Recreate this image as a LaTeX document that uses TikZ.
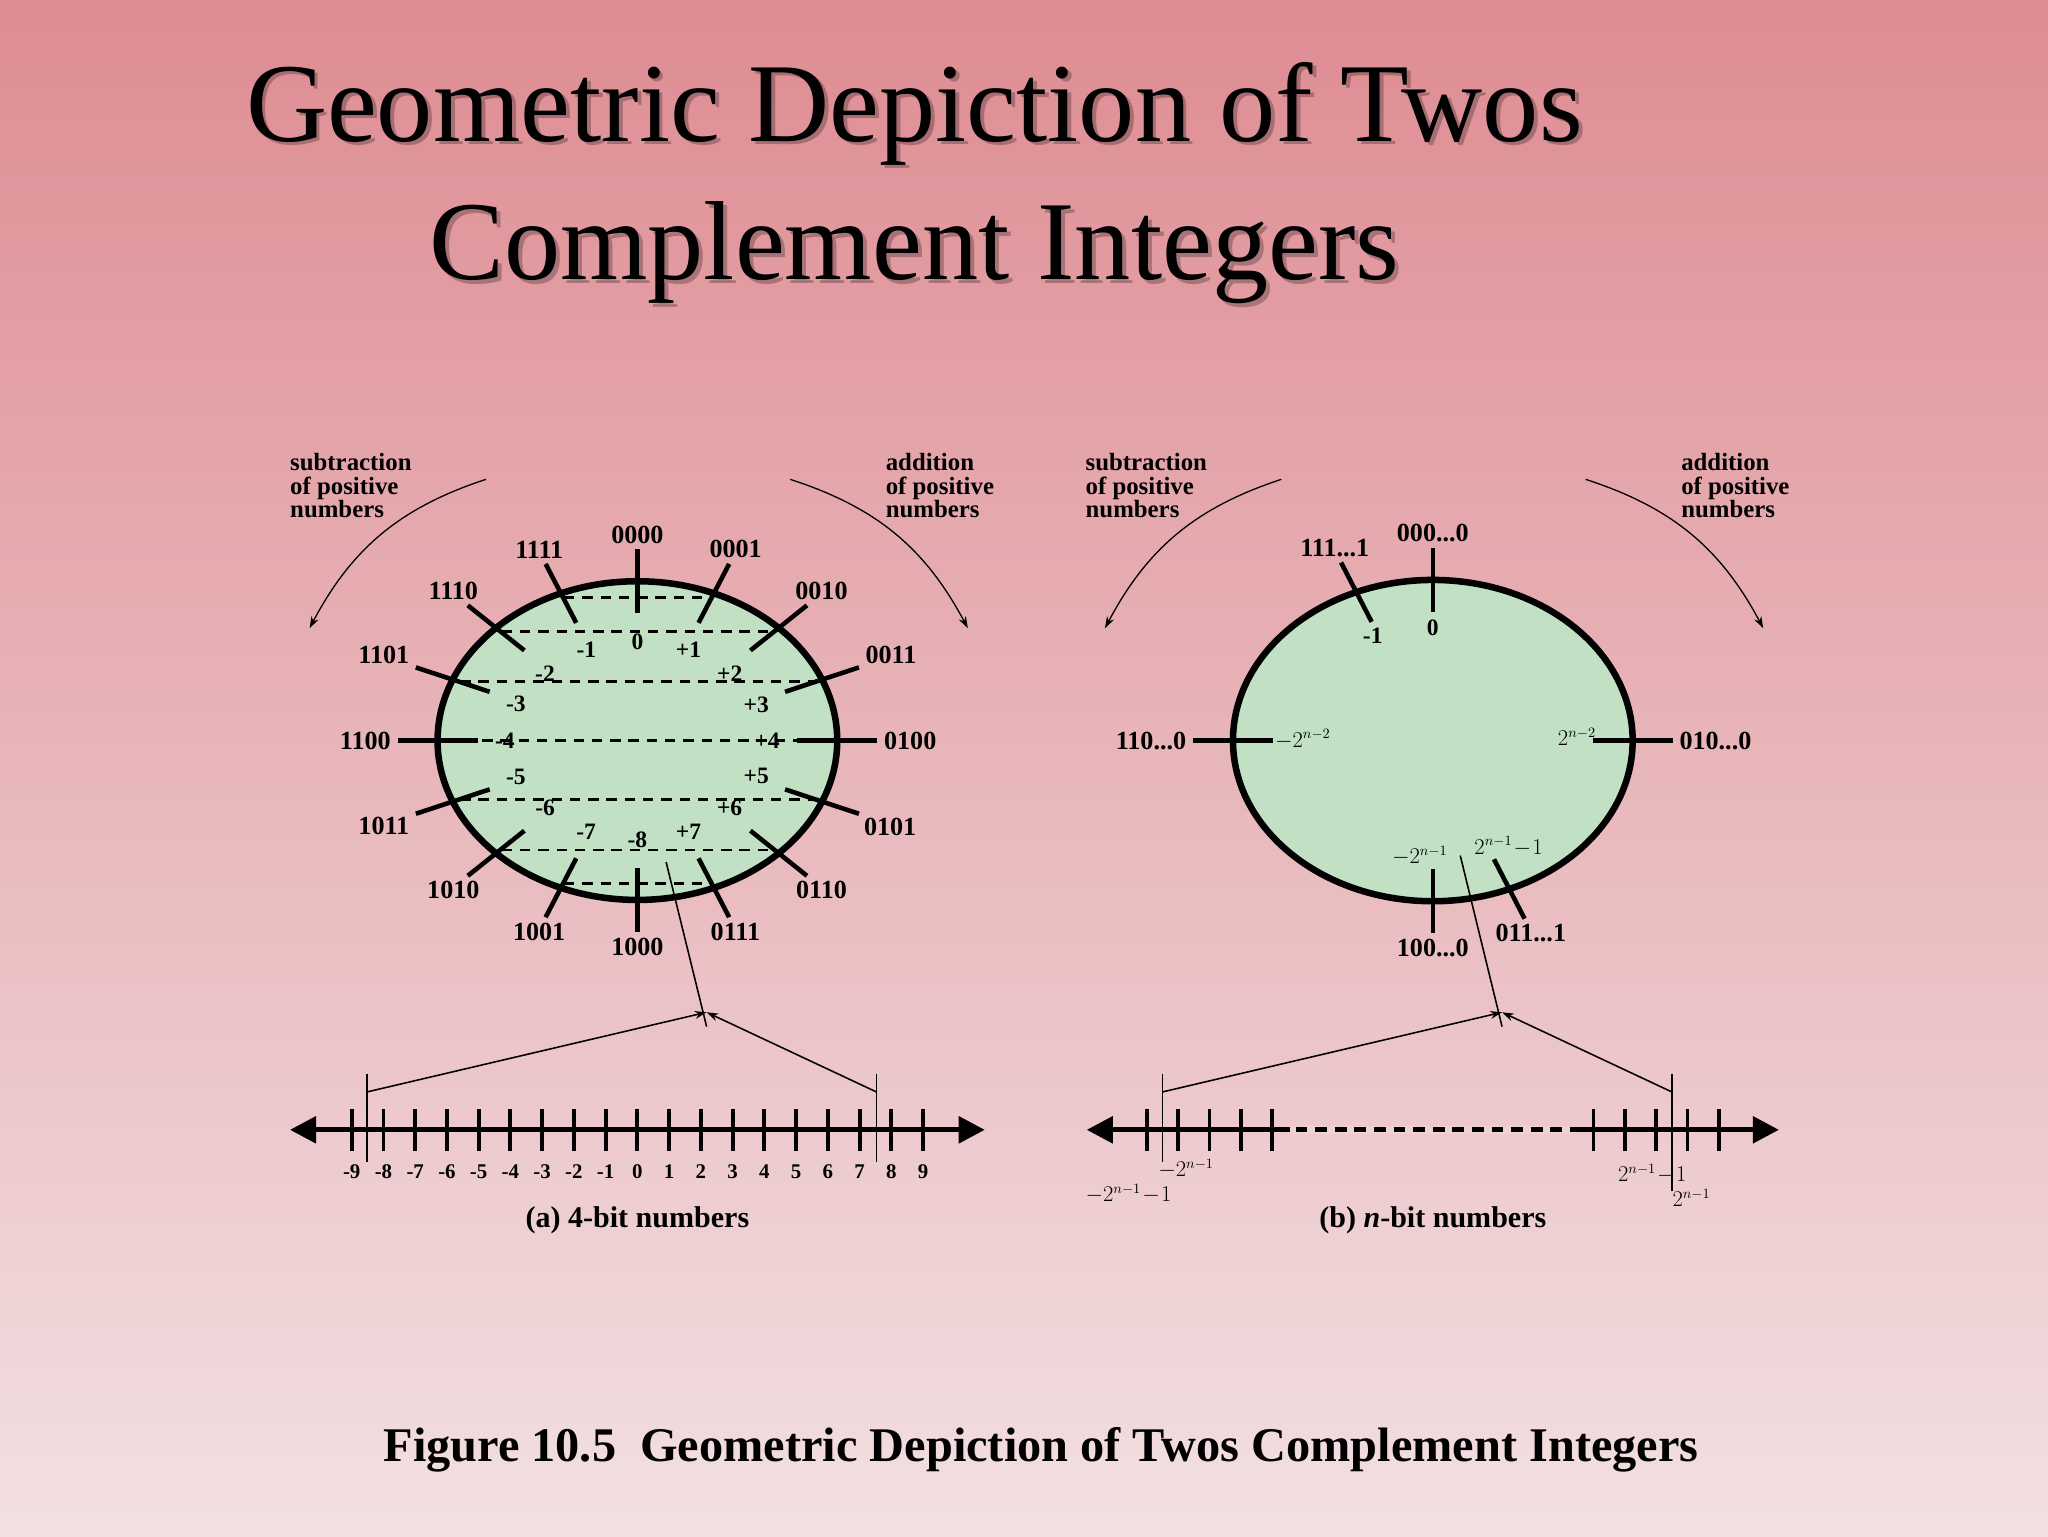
\documentclass[tikz,border=0pt]{standalone}
\usepackage{fontspec}
\setmainfont{Liberation Serif}
\usetikzlibrary{calc,arrows.meta}
\newcommand\mydots{...}
\definecolor{bgtop}{RGB}{222,140,146}
\definecolor{bgmid}{RGB}{234,184,190}
\definecolor{bgbot}{RGB}{242,224,226}
\definecolor{ellfill}{RGB}{194,224,196}
\tikzset{
  ell/.style={draw=black,line width=5pt,fill=ellfill},
  tk/.style={line width=3.5pt},
  chord/.style={line width=2pt,dash pattern=on 8pt off 6pt},
  bin/.style={font=\fontsize{20}{22}\selectfont\bfseries,inner sep=2pt},
  dec/.style={font=\fontsize{18}{20}\selectfont\bfseries,inner sep=1pt},
  side/.style={font=\fontsize{19}{20}\selectfont\bfseries,align=left,anchor=north west,inner sep=0pt},
  curv/.style={line width=1pt,-{Stealth[length=9pt,width=6pt]}},
  thin/.style={line width=1.2pt},
  ptr/.style={line width=1.2pt,-{Stealth[length=9pt,width=6pt]}},
  nline/.style={line width=4pt,{Triangle[length=20pt,width=20pt]}-{Triangle[length=20pt,width=20pt]}},
  ntk/.style={line width=3pt},
  nlab/.style={font=\fontsize{16}{18}\selectfont\bfseries,inner sep=0pt},
  mlab/.style={font=\fontsize{16}{18}\selectfont,inner sep=0pt},
  capt/.style={font=\fontsize{23}{25}\selectfont\bfseries}
}
\begin{document}
\begin{tikzpicture}[x=1pt,y=-1pt]
\shade[top color=bgtop,middle color=bgmid,bottom color=bgbot] (0,0) rectangle (1568,1176);
\useasboundingbox (0,0) rectangle (1568,1176);
% title with soft shadow
\node[text=black,opacity=0.25,font=\fontsize{86}{106}\selectfont,align=center] (tsh) at (703,143) {Geometric Depiction of Twos\\Complement Integers};
\node[text=black,font=\fontsize{86}{106}\selectfont,align=center] (title) at (700,140) {Geometric Depiction of Twos\\Complement Integers};
% ---------- (a) ----------
\coordinate (A) at (488,567);
\path[ell] (A) ellipse [x radius=153,y radius=122];
\foreach \k in {1,...,7}{
  \pgfmathsetmacro\t{90-22.5*\k}
  \draw[chord] ($(A)+({-0.96*153*cos(\t)},{-0.97*122*sin(\t)})$) -- ($(A)+({0.96*153*cos(\t)},{-0.97*122*sin(\t)})$);
}
\foreach \k/\b/\d in {0/0000/0,1/0001/+1,2/0010/+2,3/0011/+3,4/0100/+4,5/0101/+5,6/0110/+6,7/0111/+7,8/1000/-8,9/1001/-7,10/1010/-6,11/1011/-5,12/1100/-4,13/1101/-3,14/1110/-2,15/1111/-1}{
  \pgfmathsetmacro\t{90-22.5*\k}
  \pgfmathsetmacro\ao{\t+180}
  \draw[tk] ($(A)+({0.8*153*cos(\t)},{-0.8*122*sin(\t)})$) -- ($(A)+({1.2*153*cos(\t)},{-1.2*122*sin(\t)})$);
  \node[bin,anchor=\ao] (ba\k) at ($(A)+({1.22*153*cos(\t)},{-1.22*122*sin(\t)})$) {\b};
  \node[dec,anchor=\t] (da\k) at ($(A)+({0.72*153*cos(\t)},{-0.68*122*sin(\t)})$) {\d};
}
\node[side] (sa) at (222,347) {subtraction\\[-2pt]of positive\\[-2pt]numbers};
\node[side] (aa) at (678,347) {addition\\[-2pt]of positive\\[-2pt]numbers};
\coordinate (sa1) at (372,367); \coordinate (sa2) at (237,481);
\coordinate (aa1) at (605,367); \coordinate (aa2) at (741,481);
\draw[curv] (sa1) to[bend right=22] (sa2);
\draw[curv] (aa1) to[bend left=22] (aa2);
% number line a
\coordinate (La) at (222,865); \coordinate (Ra) at (754,865);
\draw[nline] (La) -- (Ra);
\foreach \i in {-9,...,9}{
  \pgfmathsetmacro\xx{488+24.3*\i}
  \draw[ntk] (\xx,849) -- (\xx,881);
  \node[nlab] at (\xx,897) {\i};
}
\coordinate (va1) at (281,822); \coordinate (va2) at (281,890);
\coordinate (vb1) at (671,822); \coordinate (vb2) at (671,890);
\draw[thin] (va1) -- (va2); \draw[thin] (vb1) -- (vb2);
\coordinate (pa) at (541,775);
\coordinate (qa1) at (281,836); \coordinate (qa2) at (671,836);
\draw[ptr] (qa1) -- (pa); \draw[ptr] (qa2) -- (pa);
\coordinate (ta1) at (510,660); \coordinate (ta2) at (541,786);
\draw[thin] (ta1) -- (ta2);
\node[capt] (ca) at (488,934) {(a) 4-bit numbers};
% ---------- (b) ----------
\coordinate (B) at (1097,567);
\path[ell] (B) ellipse [x radius=153,y radius=123];
\foreach \k/\b/\bs in {0/000\mydots0/a,-1/111\mydots1/b,4/010\mydots0/c,-4/110\mydots0/d,8/100\mydots0/e,7/011\mydots1/f}{
  \pgfmathsetmacro\t{90-22.5*\k}
  \pgfmathsetmacro\ao{\t+180}
  \draw[tk] ($(B)+({0.8*153*cos(\t)},{-0.8*123*sin(\t)})$) -- ($(B)+({1.2*153*cos(\t)},{-1.2*123*sin(\t)})$);
  \node[bin,anchor=\ao] (bb\bs) at ($(B)+({1.22*153*cos(\t)},{-1.22*123*sin(\t)})$) {\b};
}
\node[dec] (db0) at (1097,481) {0};
\node[dec] (db1) at (1051,487) {-1};
\node[mlab,anchor=west] (db2) at (976,566) {$-2^{n-2}$};
\node[mlab,anchor=east] (db3) at (1222,564) {$2^{n-2}$};
\node[mlab] (db4) at (1087,655) {$-2^{n-1}$};
\node[mlab] (db5) at (1155,648) {$2^{n-1}\!-\!1$};
\node[side] (sb) at (831,347) {subtraction\\[-2pt]of positive\\[-2pt]numbers};
\node[side] (ab) at (1287,347) {addition\\[-2pt]of positive\\[-2pt]numbers};
\coordinate (sb1) at (981,367); \coordinate (sb2) at (846,481);
\coordinate (ab1) at (1214,367); \coordinate (ab2) at (1350,481);
\draw[curv] (sb1) to[bend right=22] (sb2);
\draw[curv] (ab1) to[bend left=22] (ab2);
% number line b
\coordinate (Lb) at (832,865); \coordinate (Rb) at (1362,865);
\draw[nline] (Lb) -- (Rb);
\draw[bgmid!40!bgbot,line width=6pt] (988,865) -- (1204,865);
\draw[line width=4pt,dash pattern=on 9pt off 6pt] (992,865) -- (1204,865);
\foreach \xx in {878,902,926,950,974,1220,1244,1268,1292,1316}{
  \draw[ntk] (\xx,849) -- (\xx,881);
}
\coordinate (vc1) at (890,822); \coordinate (vc2) at (890,890);
\coordinate (vd1) at (1280,822); \coordinate (vd2) at (1280,912);
\draw[thin] (vc1) -- (vc2); \draw[thin] (vd1) -- (vd2);
\coordinate (pb) at (1150,775);
\coordinate (qb1) at (890,836); \coordinate (qb2) at (1280,836);
\draw[ptr] (qb1) -- (pb); \draw[ptr] (qb2) -- (pb);
\coordinate (tb1) at (1118,655); \coordinate (tb2) at (1150,786);
\draw[thin] (tb1) -- (tb2);
\node[mlab] (nb1) at (908,895) {$-2^{n-1}$};
\node[mlab] (nb2) at (864,914) {$-2^{n-1}\!-\!1$};
\node[mlab] (nb3) at (1265,899) {$2^{n-1}\!-\!1$};
\node[mlab] (nb4) at (1295,917) {$2^{n-1}$};
\node[capt] (cb) at (1097,934) {(b) \textit{n}-bit numbers};
% figure caption
\node[font=\fontsize{37}{40}\selectfont\bfseries] (fig) at (797,1110) {Figure 10.5\ \ Geometric Depiction of Twos Complement Integers};
\end{tikzpicture}
\end{document}
